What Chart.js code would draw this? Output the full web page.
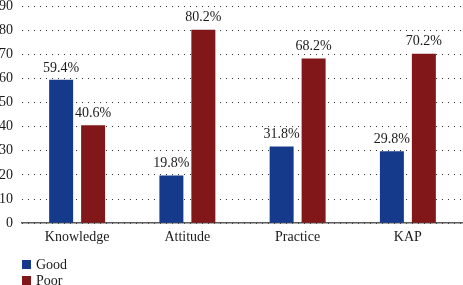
<!DOCTYPE html>
<html>
<head>
<meta charset="utf-8">
<script src="https://cdn.jsdelivr.net/npm/chart.js@4/dist/chart.umd.min.js"></script>
<style>
  html, body { margin: 0; padding: 0; background: #fff; }
  #wrap { width: 463px; height: 285px; position: relative; }
</style>
</head>
<body>
<div id="wrap"><canvas id="c"></canvas></div>
<script>
// KAP chart — Good vs Poor
const categories = ['Knowledge', 'Attitude', 'Practice', 'KAP'];
const goodVals = [59.4, 19.8, 31.8, 29.8];
const poorVals = [40.6, 80.2, 68.2, 70.2];
const yTicks = [0, 10, 20, 30, 40, 50, 60, 70, 80, 90];

const FONT = "'Liberation Serif', 'DejaVu Serif', serif";
const TXT = '#1a1a1a';

// value labels above each bar
const barLabels = {
  id: 'barLabels',
  afterDatasetsDraw(chart) {
    const ctx = chart.ctx;
    ctx.save();
    ctx.font = '14px ' + FONT;
    ctx.fillStyle = TXT;
    ctx.textAlign = 'center';
    ctx.textBaseline = 'bottom';
    chart.data.datasets.forEach((ds, di) => {
      chart.getDatasetMeta(di).data.forEach((bar, i) => {
        ctx.fillText(ds.data[i].toFixed(1) + '%', bar.x, bar.y - 5);
      });
    });
    ctx.restore();
  }
};

// vertical legend bottom-left
const stackLegend = {
  id: 'stackLegend',
  afterDraw(chart) {
    const ctx = chart.ctx;
    ctx.save();
    ctx.font = '14px ' + FONT;
    ctx.textBaseline = 'middle';
    chart.data.datasets.forEach((ds, i) => {
      const y = 264 + i * 16;
      ctx.fillStyle = ds.backgroundColor;
      ctx.fillRect(22, y - 4, 9, 9);
      ctx.fillStyle = TXT;
      ctx.fillText(ds.label, 36, y + 1);
    });
    ctx.restore();
  }
};

new Chart(document.getElementById('c'), {
  type: 'bar',
  data: {
    labels: categories,
    datasets: [
      { label: 'Good', data: goodVals, backgroundColor: '#153a8b', borderWidth: 0 },
      { label: 'Poor', data: poorVals, backgroundColor: '#821719', borderWidth: 0 }
    ]
  },
  options: {
    responsive: true, maintainAspectRatio: false, animation: false,
    categoryPercentage: 0.58, barPercentage: 0.75,
    layout: { padding: { top: 6, right: 0, bottom: 33, left: 0 } },
    plugins: { legend: { display: false }, tooltip: { enabled: false } },
    scales: {
      x: {
        grid: { display: false, drawTicks: false },
        border: { display: true, color: '#5a5a5a', width: 1.5 },
        ticks: { color: TXT, font: { family: FONT, size: 14 }, padding: 6 }
      },
      y: {
        min: 0, max: 90,
        afterBuildTicks: ax => { ax.ticks = yTicks.map(v => ({ value: v })); },
        afterFit: ax => { ax.width = 22; ax.paddingTop = 0; ax.paddingBottom = 0; },
        grid: { color: '#333', lineWidth: 1, drawTicks: false },
        border: { display: false, dash: [1, 5] },
        ticks: { color: TXT, font: { family: FONT, size: 14 }, padding: 9 }
      }
    }
  },
  plugins: [barLabels, stackLegend]
});
</script>
</body>
</html>
